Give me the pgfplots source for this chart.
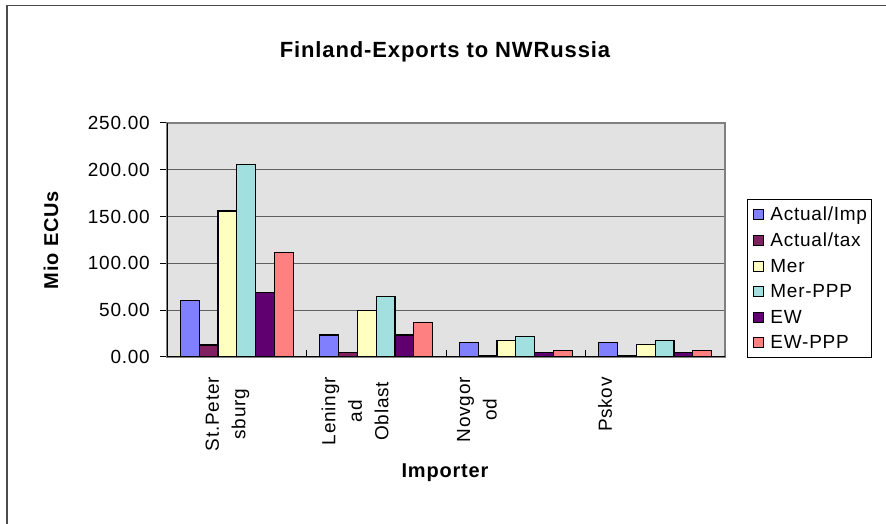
\documentclass[border=0pt]{standalone}
\usepackage{pgfplots}
\usepackage{pgfplotstable}
\pgfplotsset{compat=1.18}
\usepackage{fontspec}
\setmainfont{Liberation Sans}[LetterSpace=4]

\definecolor{cimp}{RGB}{128,128,255}
\definecolor{ctax}{RGB}{128,32,96}
\definecolor{cmer}{RGB}{255,255,192}
\definecolor{cmerppp}{RGB}{162,224,224}
\definecolor{cew}{RGB}{96,0,112}
\definecolor{cewppp}{RGB}{255,128,128}
\definecolor{plotbg}{RGB}{226,226,226}
\definecolor{gridc}{RGB}{96,96,96}

\newcommand\tickfont{\fontsize{19}{26.5}\selectfont}

% Mio ECUs, one row per importer region
\pgfplotstableread{
x imp  tax  mer   merppp ew   ewppp
0 60.0 12.8 156.0 206.0  68.5 111.5
1 23.5 4.5  49.5  64.5   23.5 36.5
2 15.5 1.5  17.5  21.5   4.5  7.0
3 15.5 1.5  13.5  17.5   4.5  7.0
}\exports

\begin{document}
\begin{tikzpicture}[x=1pt,y=1pt]
\path[use as bounding box, fill=white] (0,0) rectangle (886,524);
\draw[line width=1.5pt, draw=black!70] (7,-10) -- (7,518.5) -- (900,518.5);

\begin{axis}[
  at={(167pt,167pt)}, anchor=south west,
  scale only axis, width=558pt, height=234pt,
  xmin=-0.5, xmax=3.5, ymin=0, ymax=250,
  ybar=0pt, bar width=18.8pt,
  axis background/.style={fill=plotbg},
  axis line style={draw=gray, line width=1.2pt},
  ymajorgrids, major grid style={draw=gridc, line width=1.3pt},
  ytick={0,50,...,250},
  tick pos=left,
  tick align=outside, major tick length=7pt,
  tick style={draw=black, line width=1pt},
  xtick={-0.066,0.848,1.722,2.640},
  xticklabels={{St.Peter\\sburg},{Leningr\\ad\\Oblast},{Novgor\\od},{Pskov}},
  major x tick style={draw=none},
  xticklabel style={rotate=90, anchor=east, align=center, inner xsep=13pt, inner ysep=0pt, font=\tickfont},
  yticklabel style={font=\tickfont, inner xsep=0pt, xshift=-10pt},
  /pgf/number format/assume math mode=true,
  yticklabel={\pgfmathprintnumber[fixed,fixed zerofill,precision=2]{\tick}},
  legend cell align=left,
  legend style={at={(rel axis cs:1,1)}, anchor=north west, xshift=22pt, yshift=-76pt,
    draw=black, line width=0.8pt, fill=white, font=\tickfont,
    row sep=7pt, inner xsep=2pt, inner ysep=5pt},
  legend image code/.code={
    \path[draw=none, fill=none] (0pt,0pt) -- (19pt,0pt);
    \draw[#1, draw=black, line width=1pt] (4pt,-5pt) rectangle (14pt,5pt);},
  every axis plot/.append style={draw=black, line width=1.2pt},
]
\addplot[fill=cimp] table[x=x, y=imp] {\exports};
\addplot[fill=ctax] table[x=x, y=tax] {\exports};
\addplot[fill=cmer] table[x=x, y=mer] {\exports};
\addplot[fill=cmerppp] table[x=x, y=merppp] {\exports};
\addplot[fill=cew] table[x=x, y=ew] {\exports};
\addplot[fill=cewppp] table[x=x, y=ewppp] {\exports};
\legend{Actual/Imp, Actual/tax, Mer, Mer-PPP, EW, EW-PPP}
\draw[black, line width=1.2pt] (rel axis cs:0,1) -- (rel axis cs:0,0) -- (rel axis cs:1,0);
\pgfplotsinvokeforeach{-0.5,0.5,1.5,2.5,3.5}{
  \draw[black, line width=1pt] ([yshift=7pt]axis cs:#1,0) -- ([yshift=-7pt]axis cs:#1,0);
}
\end{axis}

\node[font=\bfseries\fontsize{22}{26}\selectfont] at (445,472) {Finland-Exports to NWRussia};
\node[font=\bfseries\fontsize{20}{24}\selectfont, rotate=90] at (51,284) {Mio ECUs};
\node[font=\bfseries\fontsize{20}{24}\selectfont] at (445,51) {Importer};
\end{tikzpicture}
\end{document}
